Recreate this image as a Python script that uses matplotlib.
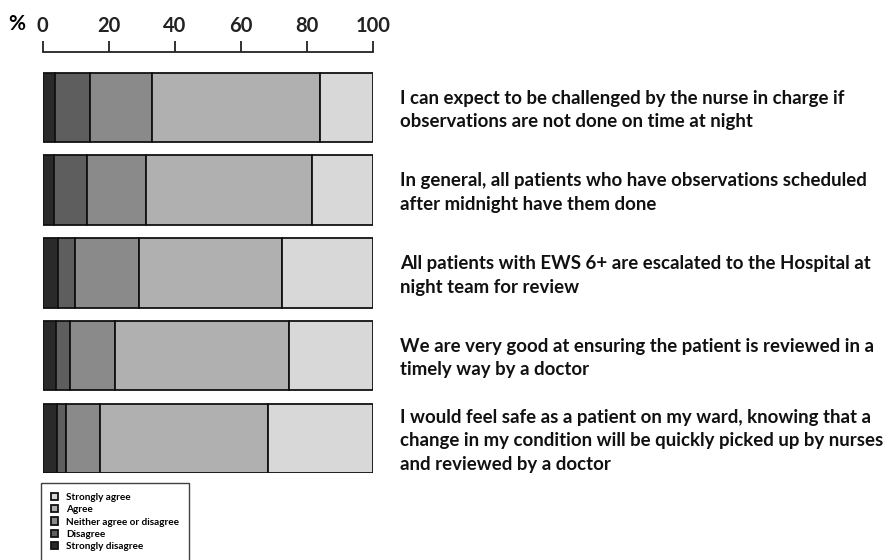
import matplotlib.pyplot as plt
import numpy as np

plt.rcParams['font.family'] = ['Lato', 'DejaVu Sans']

statements = [
    "I can expect to be challenged by the nurse in charge if\nobservations are not done on time at night",
    "In general, all patients who have observations scheduled\nafter midnight have them done",
    "All patients with EWS 6+ are escalated to the Hospital at\nnight team for review",
    "We are very good at ensuring the patient is reviewed in a\ntimely way by a doctor",
    "I would feel safe as a patient on my ward, knowing that a\nchange in my condition will be quickly picked up by nurses\nand reviewed by a doctor",
]
categories = ["Strongly disagree", "Disagree", "Neither agree or disagree", "Agree", "Strongly agree"]
strongly_disagree = [3.8, 3.5, 4.6, 4.0, 4.3]
disagree = [10.4, 9.9, 5.3, 4.3, 2.7]
neither = [18.9, 18.0, 19.4, 13.7, 10.4]
agree = [50.8, 50.2, 43.2, 52.5, 51.0]
strongly_agree = [16.1, 18.4, 27.5, 25.5, 31.6]
ticks = [0, 20, 40, 60, 80, 100]

series = [strongly_disagree, disagree, neither, agree, strongly_agree]
colors = ["#2a2a2a", "#5e5e5e", "#8a8a8a", "#b0b0b0", "#d8d8d8"]

fig = plt.figure(figsize=(8.88, 5.6), dpi=100)
ax = fig.add_axes([42.7 / 888, 87 / 560, 330 / 888, 421 / 560])

y = np.arange(len(statements))
left = np.zeros(len(statements))
handles = []
for vals, col, name in zip(series, colors, categories):
    h = ax.barh(y, vals, left=left, height=0.84, color=col, edgecolor="#111111",
                linewidth=1.3, label=name)
    handles.append(h)
    left += np.array(vals)

ax.set_xlim(0, 100)
ax.set_ylim(4.42, -0.67)
ax.set_yticks([])
ax.xaxis.tick_top()
ax.set_xticks(ticks)
ax.set_xticklabels([str(t) for t in ticks], fontsize=14.5, fontweight="bold")
ax.tick_params(axis="x", direction="out", length=8, width=1.3, pad=3.5, colors="#222222")
for s in ["left", "right", "bottom"]:
    ax.spines[s].set_visible(False)
ax.spines["top"].set_linewidth(1.3)
ax.spines["top"].set_color("#222222")

fig.text(16.5 / 888, 1 - 24 / 560, "%", fontsize=15, fontweight="bold",
         ha="center", va="center")

for yi, txt in zip(y, statements):
    ax.text(108.2, yi + 0.03, txt, fontsize=13.4, fontweight="bold", ha="left", va="center",
            linespacing=1.47, clip_on=False, color="#111111")

leg = fig.legend(handles[::-1], categories[::-1], loc="upper left",
                 bbox_to_anchor=(40.7 / 888, 1 - 482.7 / 560),
                 prop={"weight": "bold", "size": 7.2}, frameon=True, fancybox=False,
                 handlelength=0.75, handleheight=0.75, handletextpad=0.8,
                 labelspacing=0.32, borderpad=1.0, borderaxespad=0)
leg.get_frame().set_edgecolor("#111111")
leg.get_frame().set_linewidth(1.0)

fig.savefig("out.png", dpi=100)
